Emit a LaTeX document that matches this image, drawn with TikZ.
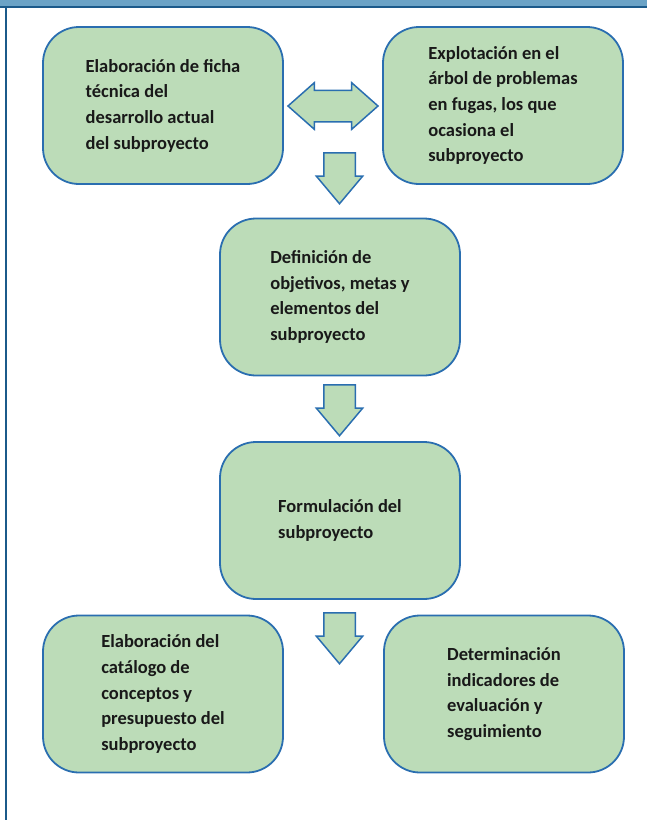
\documentclass[tikz,border=0pt]{standalone}
\usepackage{fontspec}
\setmainfont{Carlito}
\usetikzlibrary{shapes.arrows}

\definecolor{bandblue}{HTML}{6BA3C6}
\definecolor{frameblue}{HTML}{1B5A8A}
\definecolor{boxblue}{HTML}{2A6EB0}
\definecolor{boxgreen}{HTML}{BCDCB8}

\begin{document}
\begin{tikzpicture}
      [x=1pt,y=-1pt,%%%%%%%%%%%%%%%%%%%%%%%%%%%%%%
      stage/.style={rectangle,rounded corners=36pt,draw=boxblue,line width=1.8pt,
        fill=boxgreen,minimum width=240pt,minimum height=157pt,align=left,
        text=black!90,font=\bfseries\fontsize{18.5}{25.7}\selectfont},
      downarrow/.style={single arrow,shape border rotate=270,draw=boxblue,line width=1.5pt,
        fill=boxgreen,inner sep=15pt,minimum height=51pt,anchor=tail,
        single arrow head extend=7.5pt,single arrow tip angle=80},
      twoway/.style={double arrow,draw=boxblue,line width=1.5pt,fill=boxgreen,
        inner sep=15pt,minimum height=90pt,
        double arrow head extend=7.5pt,double arrow tip angle=83},
      ]%%%%%%%%%%%%%%%%%%%%%%%%%%%%%%
      \useasboundingbox (0,0) rectangle (647,820);

      % frame
      \fill[bandblue] (0,0) rectangle (647,6);
      \draw[frameblue,line width=2.5pt] (0,7) -- (647,7);
      \draw[frameblue,line width=2.5pt] (6,7) -- (6,820);

      \node[stage] (ficha) at (163,105.5) {Elaboración de ficha\\técnica del\\desarrollo actual\\del subproyecto};
      \node[stage] (arbol) at (503,105.5) {Explotación en el\\árbol de problemas\\en fugas, los que\\ocasiona el\\subproyecto};
      \node[stage] (objetivos) at (340,297) {Definición de\\objetivos, metas y\\elementos del\\subproyecto};
      \node[stage] (formulacion) at (340,520.5) {Formulación del\\subproyecto};
      \node[stage] (catalogo) at (163,694) {Elaboración del\\catálogo de\\conceptos y\\presupuesto del\\subproyecto};
      \node[stage] (indicadores) at (504,694) {Determinación\\indicadores de\\evaluación y\\seguimiento};

      \node[twoway] (enlace) at (333,106) {};
      \node[downarrow] (paso1) at (339.5,152) {};
      \node[downarrow] (paso2) at (339.5,384) {};
      \node[downarrow] (paso3) at (339.5,612) {};
      % \node[downarrow] (paso4) at (163,600) {};
    \end{tikzpicture}
\end{document}
